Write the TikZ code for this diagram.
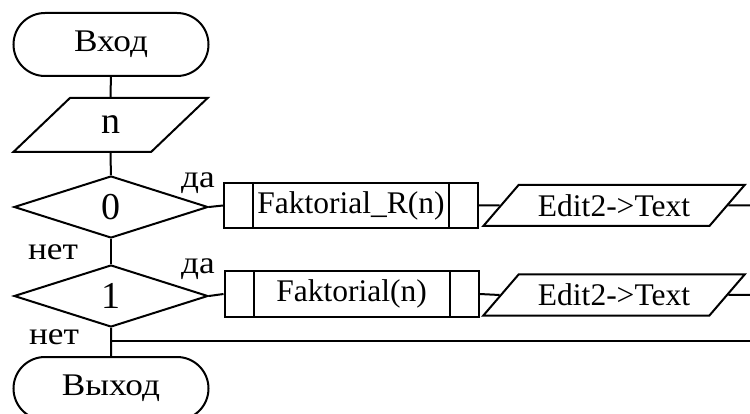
\documentclass[tikz,border=0pt]{standalone}
\usepackage{fontspec}
\setmainfont{Liberation Serif}
\newfontfamily\cyrfont[FakeStretch=1.12]{Liberation Serif}
\usetikzlibrary{shapes.geometric,shapes.misc}
\tikzset{
  term/.style={draw,rounded rectangle,minimum width=195pt,minimum height=63pt,inner sep=0pt,
    font=\cyrfont\fontsize{31.5}{36}\selectfont},
  io/.style={draw,trapezium,trapezium left angle=53.5,trapezium right angle=126.5,
    trapezium stretches=true,minimum width=195pt,minimum height=54pt,inner sep=0pt,
    font=\fontsize{38}{40}\selectfont},
  dec/.style={draw,diamond,minimum width=194pt,minimum height=62pt,inner sep=0pt,
    font=\fontsize{38}{40}\selectfont},
  proc/.style={draw,rectangle,minimum width=254pt,minimum height=45pt,inner sep=0pt},
  outp/.style={draw,trapezium,trapezium left angle=38.3,trapezium right angle=141.7,
    trapezium stretches=true,minimum width=262pt,minimum height=41pt,inner sep=0pt},
  lbl/.style={inner sep=0pt,font=\cyrfont\fontsize{31.5}{36}\selectfont},
}
\begin{document}
\begin{tikzpicture}[x=1pt,y=-1pt,line width=2pt,font=\fontsize{31.5}{36}\selectfont]
 \useasboundingbox (0,0) rectangle (750,414);
 \clip (0,0) rectangle (750,414);
 % main column
 \node[term] (start) at (111,44.5) {Вход};
 \node[io] (inp) at (110.5,125) {n};
 \node[dec] (d0) at (111,207) {0};
 \node[dec] (d1) at (111,296) {1};
 \node[term] (stop) at (111,388.5) {Выход};
 % branches
 \node[proc] (p0) at (351,205.5) {Faktorial\_R(n)};
 \node[proc] (p1) at (351.5,294) {Faktorial(n)};
 \node[outp] (o0) at (614,205.5) {Edit2->Text};
 \node[outp] (o1) at (614,295) {Edit2->Text};
 \draw ([xshift=30pt]p0.north west) -- ([xshift=30pt]p0.south west);
 \draw ([xshift=-30pt]p0.north east) -- ([xshift=-30pt]p0.south east);
 \draw ([xshift=30pt]p1.north west) -- ([xshift=30pt]p1.south west);
 \draw ([xshift=-30pt]p1.north east) -- ([xshift=-30pt]p1.south east);
 \coordinate (r0) at (760,205.5);
 \coordinate (r1) at (760,295);
 \coordinate (m) at (111,341);
 \coordinate (mr) at (760,341);
 % connectors
 \draw (start) -- (inp);
 \draw (inp) -- (d0);
 \draw (d0) -- (d1);
 \draw (d1) -- (stop);
 \draw (d0.east) -- (p0.west);
 \draw (d1.east) -- (p1.west);
 \draw (p0.east) -- (o0.west);
 \draw (p1.east) -- (o1.west);
 \draw (o0.east) -- (r0);
 \draw (o1.east) -- (r1);
 \draw (m) -- (mr);
 % labels
 \node[lbl] (yes0) at (198,183) {да};
 \node[lbl] (yes1) at (198,269) {да};
 \node[lbl] (no0) at (53,252) {нет};
 \node[lbl] (no1) at (54,337) {нет};
\end{tikzpicture}
\end{document}
